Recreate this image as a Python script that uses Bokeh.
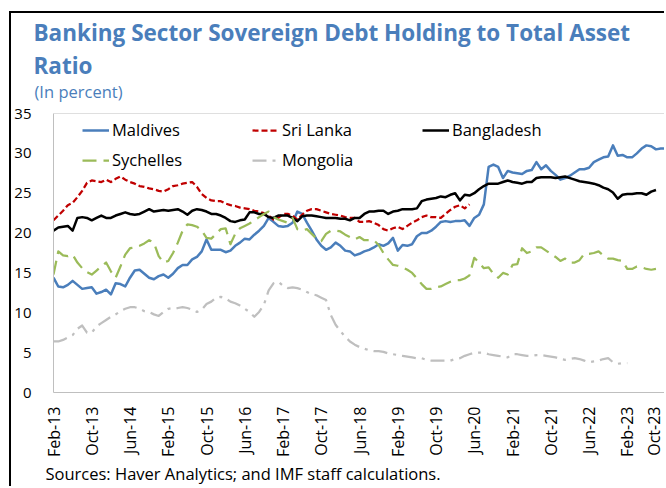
import math
from bokeh.plotting import figure
from bokeh.models import (Range1d, FixedTicker, Legend, LegendItem, Span, Title,
                          InlineStyleSheet)
from bokeh.embed import file_html
from bokeh.resources import INLINE

# ---------------- data (monthly, starting Feb-2013) ----------------
tick_labels = ["Feb-13", "Oct-13", "Jun-14", "Feb-15", "Oct-15", "Jun-16", "Feb-17",
               "Oct-17", "Jun-18", "Feb-19", "Oct-19", "Jun-20", "Feb-21", "Oct-21",
               "Jun-22", "Feb-23", "Oct-23"]
months_between_labels = 8
y_ticks = [0, 5, 10, 15, 20, 25, 30, 35]

maldives = [14.4, 13.3, 13.2, 13.5, 14.0, 13.5, 13.0, 13.1, 13.2, 12.4,
            12.6, 12.9, 12.3, 13.7, 13.6, 13.3, 14.4, 15.3, 15.4, 14.9,
            14.4, 14.2, 14.6, 14.8, 14.4, 14.9, 15.6, 16.0, 16.0, 16.7,
            17.0, 17.7, 19.2, 17.9, 17.9, 17.9, 17.6, 17.8, 18.4, 18.8,
            19.3, 19.2, 19.8, 20.3, 20.9, 21.9, 21.4, 20.9, 20.8, 20.9,
            21.3, 22.7, 22.4, 21.3, 20.3, 19.2, 18.4, 17.9, 18.2, 18.8,
            18.4, 17.8, 17.7, 17.2, 17.4, 17.7, 17.9, 18.2, 18.6, 18.4,
            18.7, 19.4, 17.8, 18.5, 18.4, 18.6, 19.6, 20.0, 20.0, 20.3,
            20.8, 21.4, 21.5, 21.4, 21.5, 21.5, 21.6, 20.9, 21.9, 22.3,
            23.6, 28.3, 28.6, 28.3, 26.9, 27.8, 27.6, 27.5, 27.4, 27.8,
            27.9, 28.9, 28.0, 28.5, 27.8, 27.3, 26.7, 26.9, 27.2, 27.6,
            28.0, 28.0, 28.2, 28.9, 29.2, 29.5, 29.6, 31.0, 29.7, 29.8,
            29.5, 29.5, 30.0, 30.6, 31.0, 30.9, 30.5, 30.6, 30.6]

sri_lanka = [21.6, 22.2, 22.8, 23.5, 23.8, 24.5, 25.3, 26.3, 26.6, 26.5,
             26.4, 26.7, 26.4, 26.8, 27.1, 26.7, 26.4, 26.2, 25.9, 25.8,
             25.6, 25.5, 25.3, 25.2, 25.5, 25.9, 26.0, 26.2, 26.3, 26.4,
             25.8, 24.9, 24.4, 24.1, 24.0, 24.0, 23.7, 23.5, 23.4, 23.2,
             23.1, 23.0, 22.8, 22.7, 22.5, 22.2, 21.7, 21.9, 22.4, 22.4,
             22.2, 21.7, 22.3, 22.8, 23.0, 23.0, 22.8, 22.6, 22.4, 22.3,
             22.2, 22.0, 21.9, 21.9, 21.4, 21.4, 21.5, 21.3, 21.0, 20.5,
             20.3, 20.6, 20.8, 20.5, 20.9, 21.3, 21.6, 22.0, 22.2, 22.0,
             22.0, 21.9, 22.4, 22.9, 23.3, 23.5, 23.1, 23.6]

bangladesh = [20.3, 20.7, 20.8, 20.9, 20.3, 21.9, 22.0, 21.9, 21.6, 21.9,
              22.2, 21.9, 21.9, 22.2, 22.4, 22.6, 22.4, 22.3, 22.4, 22.7,
              23.0, 22.7, 22.8, 22.9, 22.8, 22.9, 23.0, 22.7, 22.3, 22.8,
              23.0, 22.9, 22.7, 22.4, 22.4, 22.2, 21.9, 21.5, 21.4, 21.6,
              21.7, 22.6, 22.6, 22.4, 22.4, 22.0, 21.9, 22.2, 22.2, 22.2,
              21.9, 21.5, 22.1, 22.2, 22.2, 22.1, 22.0, 21.9, 21.9, 21.9,
              21.8, 21.8, 21.6, 21.9, 21.9, 22.4, 22.7, 22.7, 22.8, 22.8,
              22.4, 22.7, 22.8, 23.0, 23.0, 23.0, 23.1, 24.0, 24.2, 24.3,
              24.4, 24.6, 24.5, 24.8, 25.0, 24.1, 24.8, 24.7, 25.0, 25.5,
              25.9, 26.2, 26.2, 26.2, 26.4, 26.6, 26.4, 26.3, 26.2, 26.4,
              26.4, 26.9, 27.0, 27.0, 27.0, 26.9, 27.0, 27.1, 26.9, 26.7,
              26.5, 26.4, 26.3, 26.2, 26.0, 25.7, 25.5, 25.1, 24.3, 24.8,
              24.9, 24.9, 25.0, 25.0, 24.8, 25.2, 25.4]

seychelles = [14.8, 17.7, 17.2, 17.1, 17.3, 16.3, 15.6, 15.1, 14.8, 15.3,
              15.8, 16.3, 15.2, 14.4, 15.8, 17.3, 18.1, 18.2, 18.4, 18.7,
              19.1, 18.8, 17.1, 16.3, 16.5, 17.5, 18.8, 20.3, 21.1, 21.0,
              20.8, 20.3, 19.4, 19.3, 19.9, 20.5, 20.6, 18.6, 19.9, 20.6,
              20.9, 21.2, 21.6, 22.0, 22.4, 22.7, 22.0, 21.7, 21.5, 21.3,
              21.9, 20.5, 20.3, 20.5, 19.9, 19.3, 19.0, 19.9, 20.3, 20.3,
              20.2, 19.8, 19.5, 19.2, 19.5, 19.1, 19.1, 19.1, 18.5, 17.5,
              16.7, 16.0, 15.9, 15.7, 15.4, 15.0, 14.3, 13.6, 13.0, 13.0,
              13.2, 13.3, 13.6, 13.9, 14.1, 14.1, 14.3, 14.7, 16.9, 16.3,
              15.6, 15.7, 14.9, 14.4, 15.0, 14.8, 16.0, 16.1, 18.1, 17.5,
              17.7, 18.2, 18.2, 17.8, 17.4, 17.0, 16.5, 16.8, 16.3, 16.3,
              16.6, 17.4, 17.4, 17.5, 17.7, 17.2, 16.8, 16.8, 16.6, 16.5,
              15.5, 15.5, 15.8, 15.7, 15.5, 15.4, 15.5]

mongolia = [6.4, 6.4, 6.6, 6.9, 7.2, 8.0, 8.4, 7.5, 7.5, 8.3,
            8.7, 9.1, 9.5, 9.8, 10.2, 10.5, 10.7, 10.7, 10.5, 10.2,
            10.1, 9.8, 9.6, 10.1, 10.5, 10.6, 10.6, 10.7, 10.6, 10.4,
            10.1, 10.4, 11.1, 11.4, 11.9, 12.0, 11.8, 11.4, 11.2, 10.9,
            10.5, 10.1, 9.5, 10.1, 11.0, 12.8, 13.7, 13.9, 13.4, 13.1,
            13.2, 13.1, 12.9, 12.6, 12.3, 12.2, 11.9, 11.6, 9.7, 8.5,
            7.7, 7.0, 6.4, 6.0, 5.7, 5.5, 5.3, 5.2, 5.2, 5.1,
            4.9, 4.8, 4.7, 4.6, 4.5, 4.4, 4.3, 4.3, 4.1, 4.0,
            4.0, 4.0, 4.0, 4.0, 4.2, 4.3, 4.6, 4.8, 5.0, 5.0,
            5.0, 4.8, 4.7, 4.6, 4.5, 4.4, 4.8, 4.8, 4.7, 4.6,
            4.6, 4.7, 4.7, 4.6, 4.5, 4.4, 4.2, 4.1, 4.2, 4.3,
            4.2, 4.0, 3.8, 3.9, 4.0, 4.2, 4.3, 3.8, 3.6, 3.7,
            3.7]

FONT = "Open Sans"
TITLE_BLUE = "#4A7EBB"
FRAME_GRAY = "#BFBFBF"

frame_css = InlineStyleSheet(css=":host { margin-left: 9px; margin-top: 11px; "
                                 "border-left: 2px solid black; border-top: 2px solid black; }")

p = figure(width=655, height=475, output_backend="svg", toolbar_location=None,
           title=None,
           x_range=Range1d(0, 128.2), y_range=Range1d(0, 35),
           min_border_left=42, min_border_right=0, min_border_top=100,
           min_border_bottom=96, stylesheets=[frame_css])
p.outline_line_color = None
p.grid.visible = False
p.background_fill_color = "white"
p.border_fill_color = "white"

tick_pos = [i * months_between_labels for i in range(len(tick_labels))]
p.xaxis.ticker = FixedTicker(ticks=tick_pos)
p.xaxis.major_label_overrides = {t: lab for t, lab in zip(tick_pos, tick_labels)}
p.xaxis.major_label_orientation = math.pi / 2
p.xaxis.major_label_standoff = 8
p.yaxis.ticker = FixedTicker(ticks=y_ticks)
p.yaxis.major_label_standoff = 16
for ax in (p.xaxis, p.yaxis):
    ax.axis_line_color = FRAME_GRAY
    ax.major_tick_line_color = None
    ax.minor_tick_line_color = None
    ax.major_label_text_font = FONT
    ax.major_label_text_color = "black"
p.xaxis.major_label_text_font_size = "16px"
p.yaxis.major_label_text_font_size = "15px"

p.add_layout(Span(location=35, dimension="width", line_color=FRAME_GRAY, line_width=1))

series = [
    ("Maldives", maldives, "#4A7EBB", "solid", 2.5),
    ("Sri Lanka", sri_lanka, "#C00000", "6 3", 2.25),
    ("Bangladesh", bangladesh, "black", "solid", 2.5),
    ("Sychelles", seychelles, "#9BBB59", "14 7", 2.25),
    ("Mongolia", mongolia, "#BFBFBF", "14 6 3 6", 2.25),
]
items = []
for name, vals, color, dash, w in series:
    r = p.line(list(range(len(vals))), vals, line_color=color, line_width=w,
               line_dash=dash, line_join="round")
    items.append(LegendItem(label=name, renderers=[r]))

legend = Legend(items=items, location=(29, 221), orientation="horizontal", ncols=3,
                glyph_width=27, glyph_height=20, label_height=20, label_standoff=3,
                label_width=133, spacing=7, padding=0, margin=0,
                background_fill_alpha=0, border_line_color=None,
                label_text_font=FONT, label_text_font_size="16.5px",
                label_text_color="black")
p.add_layout(legend)

subtitle = Title(text="(In percent)", align="left", offset=-19, standoff=21,
                 text_font=FONT, text_font_size="16.5px", text_font_style="normal",
                 text_color=TITLE_BLUE)
main_title = Title(text="Banking Sector Sovereign Debt Holding to Total Asset\nRatio",
                   align="left", offset=-20, standoff=-27, text_line_height=1.05,
                   text_font=FONT, text_font_size="22.5px", text_font_style="bold",
                   text_color=TITLE_BLUE)
p.add_layout(subtitle, "above")
p.add_layout(main_title, "above")

source = Title(text="Sources: Haver Analytics; and IMF staff calculations.",
               align="left", offset=-8, standoff=0,
               text_font=FONT, text_font_size="16.5px", text_font_style="normal",
               text_color="black")
p.add_layout(source, "below")

open("out.html", "w").write(file_html(p, INLINE))
